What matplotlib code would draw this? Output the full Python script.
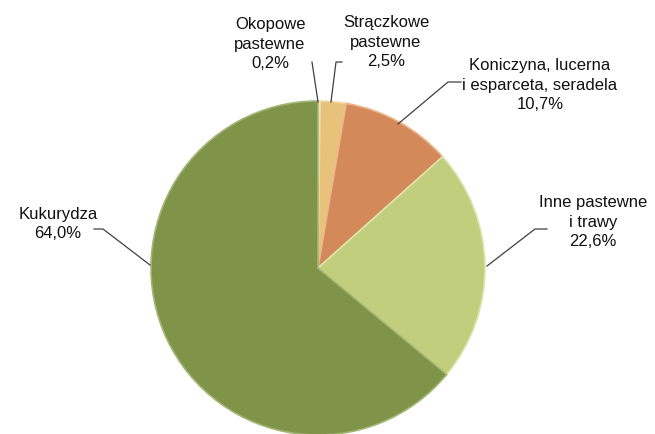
import matplotlib.pyplot as plt
import numpy as np

# dane
kategorie = ['Okopowe\npastewne', 'Strączkowe\npastewne', 'Koniczyna, lucerna\ni esparceta, seradela',
             'Inne pastewne\ni trawy', 'Kukurydza']
udzialy = [0.2, 2.5, 10.7, 22.6, 64.0]
kolory = ['#F3EDDA', '#E6C27A', '#D4895A', '#C0CE7E', '#7F9449']
krawedzie = ['#FFFFFF', '#F4DCA6', '#EDB58C', '#DDE6AE', '#A3B674']

W, H = 655, 434
cx, cy, R = 318, 268, 167

def p(px, py):
    # piksele -> wspolrzedne danych (promien kola = 1)
    return (px - cx) / R, (cy - py) / R

plt.rcParams['font.family'] = ['Liberation Sans Narrow', 'Liberation Sans', 'DejaVu Sans']

fig = plt.figure(figsize=(W / 100, H / 100), dpi=100)
ax = fig.add_axes([0, 0, 1, 1])

wedges, _ = ax.pie(udzialy, colors=kolory, startangle=90, counterclock=False,
                   radius=1.0, wedgeprops=dict(linewidth=1.2))
for w, k in zip(wedges, krawedzie):
    w.set_edgecolor(k)

# pie() ustawia wlasne granice, wiec nadpisujemy je po rysowaniu
ax.set_xlim(-cx / R, (W - cx) / R)
ax.set_ylim((cy - H) / R, cy / R)
ax.set_aspect('equal')
ax.axis('off')

fs = 12

# etykiety: (x, y) srodka tekstu w pikselach, linia odniesienia
etykiety = [
    ((270, 44), [(312, 62), (318, 102)]),
    ((386, 42), [(342, 62), (336, 62), (331, 102)]),
    ((540, 85), [(461, 82), (448, 82), (398, 124)]),
    ((593, 222), [(547, 229), (535, 229), (487, 266)]),
    ((58, 224), [(94, 229), (103, 229), (150, 265)]),
]
for kat, u, (pos, linia) in zip(kategorie, udzialy, etykiety):
    tekst = kat + '\n' + f'{u:.1f}%'.replace('.', ',')
    x, y = p(*pos)
    ax.text(x, y, tekst, ha='center', va='center', fontsize=fs,
            linespacing=1.4, color='#111111')
    pts = np.array([p(a, b) for a, b in linia])
    ax.plot(pts[:, 0], pts[:, 1], color='#404040', linewidth=0.9)

fig.savefig('out.png', dpi=100, facecolor='white')
